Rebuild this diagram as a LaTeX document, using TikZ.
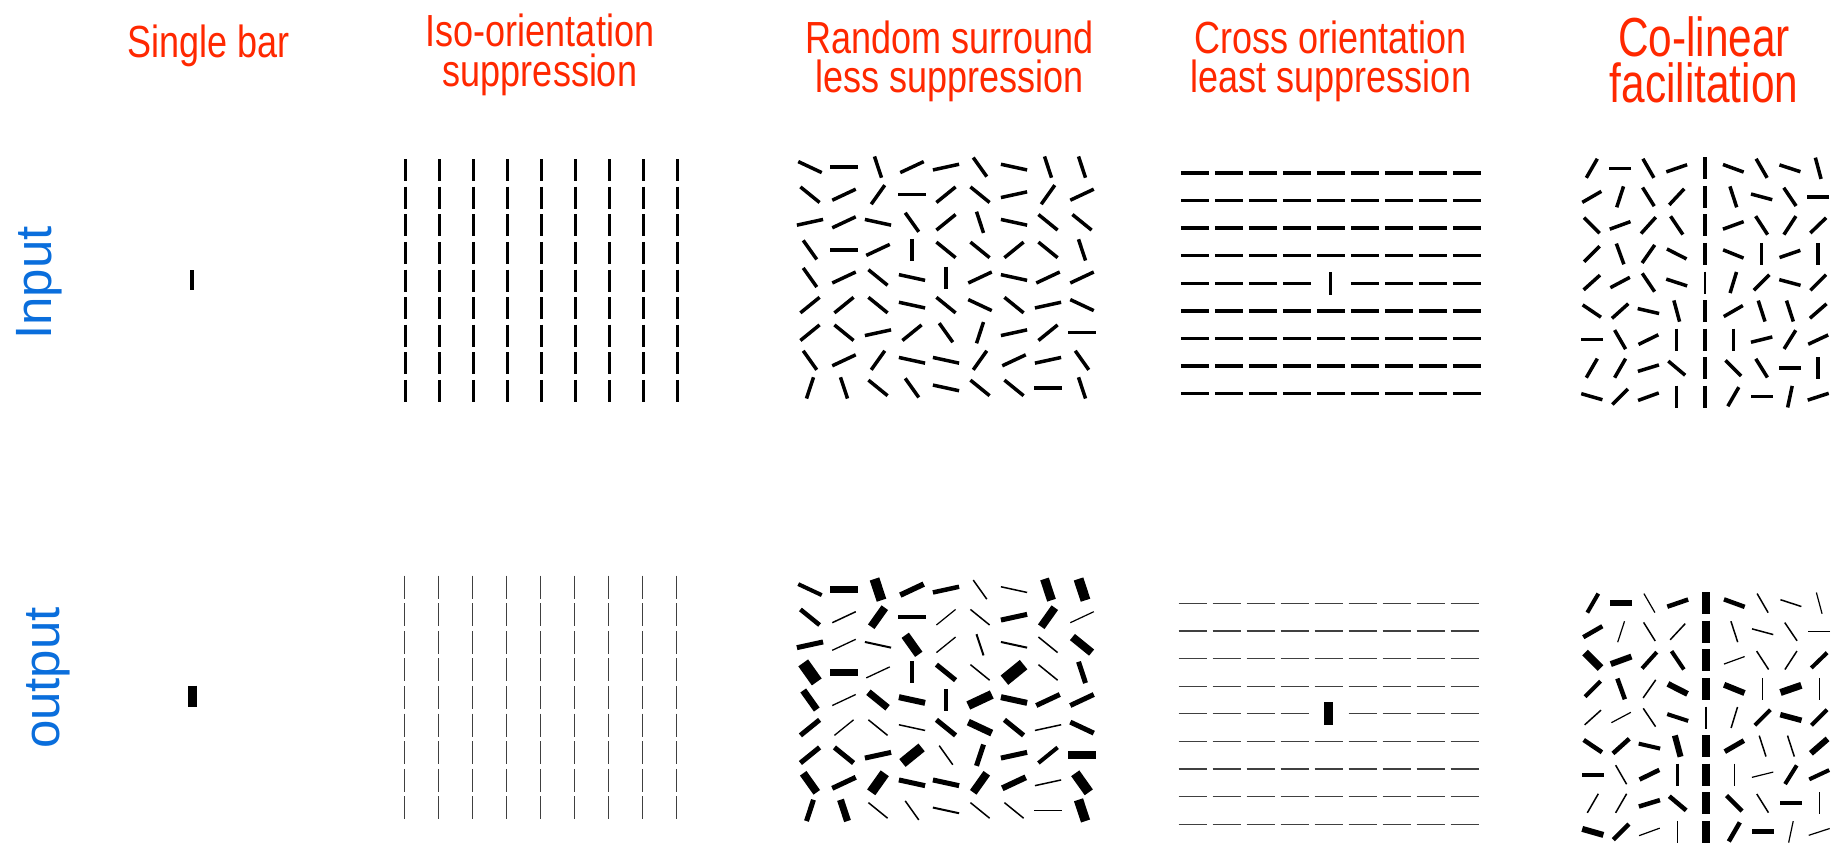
\documentclass[tikz,border=0pt]{standalone}
\usepackage{fontspec}
\setmainfont{Liberation Sans}
\newfontfamily\titlefont[FakeStretch=0.8]{Liberation Sans}
\newfontfamily\bigtitlefont[FakeStretch=0.77]{Liberation Sans}
\definecolor{tred}{RGB}{255,40,0}
\definecolor{tblue}{RGB}{10,110,220}
\begin{document}
\begin{tikzpicture}[x=1pt,y=-1pt,
  ttl/.style={font=\titlefont\fontsize{45}{39}\selectfont, text=tred, align=center, anchor=north, inner sep=0pt},
  ttlbig/.style={font=\bigtitlefont\fontsize{55}{46}\selectfont, text=tred, align=center, anchor=north, inner sep=0pt},
  rowlab/.style={font=\fontsize{51}{56}\selectfont, text=tblue, rotate=90, anchor=base, inner sep=0pt},
  inbar/.style={line width=3.5pt, black, line cap=butt},
  thinbar/.style={line width=1.3pt, black!75, line cap=butt},
  outbar/.style={black, line cap=butt}]
\useasboundingbox (0,0) rectangle (1843,843);
\clip (0,0) rectangle (1843,843);
\fill[white] (0,0) rectangle (1843,843);

% titles
\node[ttl, anchor=base] (t1) at (209,58) {Single bar};
\node[ttl, font=\titlefont\fontsize{45}{40}\selectfont] (t2) at (540,13.8) {Iso-orientation\\suppression};
\node[ttl] (t3) at (950,20.8) {Random surround\\less suppression};
\node[ttl] (t4) at (1331,20.8) {Cross orientation\\least suppression};
\node[ttlbig] (t5) at (1704,16.6) {Co-linear\\facilitation};

% row labels
\node[rowlab] (lin) at (51.7,283) {Input};
\node[rowlab] (lout) at (59.3,678) {output};

% single bar
\draw[line width=4.5pt] (192,270) -- (192,290);
\draw[line width=9pt] (192.5,685.5) -- (192.5,706.5);

% iso input
\begin{scope}[shift={(541.5,280.5)}, xscale=1.232]
\foreach \r in {-4,...,4} \foreach \c in {-4,...,4}
  \draw[inbar] (\c*27.6,\r*27.6) +(0,-11) -- +(0,11);
\end{scope}
% iso output
\begin{scope}[shift={(540.3,697.5)}, xscale=1.232]
\foreach \r in {-4,...,4} \foreach \c in {-4,...,4}
  \draw[thinbar] (\c*27.6,\r*27.6) +(0,-11.5) -- +(0,11.5);
\end{scope}

% random input
\begin{scope}[shift={(946,277.5)}, xscale=1.232]
\foreach \a [count=\i from 0] in {
 -30,0,-75,30,15,-60,-15,-75,-75,
 -45,30,60,0,45,-45,15,60,30,
 15,30,-15,-60,45,-75,-15,-45,-45,
 -60,0,30,90,-45,-45,45,-45,-75,
 -60,30,-45,-15,90,30,-15,30,30,
 45,45,-45,-15,-45,-30,-45,15,-30,
 45,-45,15,45,-60,75,15,45,0,
 -60,30,60,-15,-15,60,30,15,-60,
 75,-75,-45,-60,-15,-45,-45,0,-75}{
  \pgfmathtruncatemacro\rr{div(\i,9)}
  \pgfmathtruncatemacro\cc{mod(\i,9)}
  \draw[inbar] ({(\cc-4)*27.6},{(\rr-4)*27.6}) +(-\a:11) -- +(180-\a:11);
}
\end{scope}
% random output
\begin{scope}[shift={(946,700)}, xscale=1.232]
\foreach \a/\w [count=\i from 0] in {
 -30/4,0/6.5,-75/10,30/5.5,15/4.5,-60/1.5,-15/1.5,-75/9,-75/10,
 -45/4.5,30/1.5,60/8,0/4,45/1.2,-45/1.5,15/5,60/8,30/1.2,
 15/5,30/1.3,-15/2,-60/9,45/1.3,-75/2,-15/2,-45/1.5,-45/8,
 -60/12,0/6.5,30/1.3,90/4,-45/5,-45/1.5,45/12,-45/1.5,-75/5,
 -60/7,30/1.3,-45/7,-15/6,90/4,30/9,-15/6,30/5,30/5,
 45/5,45/1.3,-45/1.5,-15/1.5,-45/5,-30/7,-45/5,15/1.5,-30/5,
 45/5,-45/5,15/5,45/10,-60/1.5,75/5,15/5,45/4,0/7.5,
 -60/8,30/5,60/10,-15/5,-15/5,60/8,30/6,15/1.5,-60/10,
 75/5,-75/7,-45/1.5,-60/1.5,-15/2,-45/1.5,-45/1.5,0/1.3,-75/9.5}{
  \pgfmathtruncatemacro\rr{div(\i,9)}
  \pgfmathtruncatemacro\cc{mod(\i,9)}
  \draw[outbar, line width=\w pt] ({(\cc-4)*27.6},{(\rr-4)*27.6}) +(-\a:11) -- +(180-\a:11);
}
\end{scope}

% cross input
\begin{scope}[shift={(1330.7,283.3)}, xscale=1.232]
\foreach \r in {-4,...,4} \foreach \c in {-4,...,4}{
  \pgfmathtruncatemacro\ctr{(\r==0)&&(\c==0)}
  \ifnum\ctr=1
    \draw[inbar] (\c*27.6,\r*27.6) +(0,-11.2) -- +(0,11.2);
  \else
    \draw[inbar] (\c*27.6,\r*27.6) +(-11.2,0) -- +(11.2,0);
  \fi}
\end{scope}
% cross output
\begin{scope}[shift={(1328.7,713.7)}, xscale=1.232]
\foreach \r in {-4,...,4} \foreach \c in {-4,...,4}{
  \pgfmathtruncatemacro\ctr{(\r==0)&&(\c==0)}
  \ifnum\ctr=1
    \draw[outbar, line width=9pt] (\c*27.6,\r*27.6) +(0,-11.5) -- +(0,11.5);
  \else
    \draw[thinbar, line width=1.2pt] (\c*27.6,\r*27.6) +(-11.5,0) -- +(11.5,0);
  \fi}
\end{scope}

% co-linear input
\begin{scope}[shift={(1705,282.5)}]
\foreach \a/\w [count=\i from 0] in {
 60/3.5,0/3.5,-60/3.5,19/3.5,90/3.5,-20/3.5,-60/3.5,-18/3.5,-75/3.5,
 30/3.5,72/3.5,-58/3.5,47/3.5,90/3.5,-72/3.5,-15/3.5,-56/3.5,0/3.5,
 -45/3.5,20/3.5,48/3.5,-56/3.5,90/3.5,20/3.5,-57/3.5,57/3.5,44/3.5,
 45/3.5,-70/3.5,55/3.5,-27/3.5,90/3.5,-22/3.5,90/3.5,19/3.5,90/3.5,
 42/3.5,28/3.5,-56/3.5,-18/3.5,90/1.5,73/3.5,45/3.5,-15/3.5,45/3.5,
 -34/3.5,42/3.5,-13/3.5,-75/3.5,90/3.5,30/3.5,-72/3.5,-72/3.5,41/3.5,
 0/3.5,-60/3.5,26/3.5,90/3.5,90/3.5,90/3.5,14/3.5,58/3.5,25/3.5,
 60/3.5,60/3.5,17/3.5,-40/3.5,90/3.5,-45/3.5,-58/3.5,0/3.5,90/3.5,
 -16/3.5,45/3.5,20/3.5,90/3.5,90/3.5,60/3.5,0/3.5,78/3.5,18/3.5}{
  \pgfmathtruncatemacro\rr{div(\i,9)}
  \pgfmathtruncatemacro\cc{mod(\i,9)}
  \draw[outbar, line width=\w pt] ({(\cc-4)*28.3},{(\rr-4)*28.55}) +(-\a:11) -- +(180-\a:11);
}
\end{scope}
% co-linear output
\begin{scope}[shift={(1706,717.5)}]
\foreach \a/\w [count=\i from 0] in {
 60/4,0/6,-60/1.2,19/4.5,90/7.7,-20/4.5,-60/1.5,-18/1.5,-75/1.2,
 30/4.5,72/1.2,-58/1.5,47/1.5,90/7.7,-72/1.5,-15/1.5,-56/1.5,0/1.2,
 -45/8,20/6,48/4,-56/4,90/7.7,20/1.2,-57/1.5,57/1.5,44/4,
 45/4,-70/4.5,55/1.5,-27/6,90/7.7,-22/6,90/1.2,19/7,90/1.2,
 42/1.5,28/1.2,-56/1.5,-18/4,90/2.7,73/1.5,45/4,-15/5.5,45/4,
 -34/4.5,42/4.5,-13/4,-75/6,90/7.7,30/5,-72/1.5,-72/1.5,41/6,
 0/4,-60/1.5,26/4.5,90/3,90/7.7,90/1.2,14/1.2,58/4,25/4,
 60/1.5,60/1.5,17/4.5,-40/4.5,90/7.7,-45/4.5,-58/1.5,0/4,90/1.2,
 -16/6,45/4.5,20/1.2,90/1.2,90/7.7,60/4.5,0/5,78/1.2,18/1.2}{
  \pgfmathtruncatemacro\rr{div(\i,9)}
  \pgfmathtruncatemacro\cc{mod(\i,9)}
  \draw[outbar, line width=\w pt] ({(\cc-4)*28.3},{(\rr-4)*28.6}) +(-\a:11) -- +(180-\a:11);
}
\end{scope}
\end{tikzpicture}
\end{document}
